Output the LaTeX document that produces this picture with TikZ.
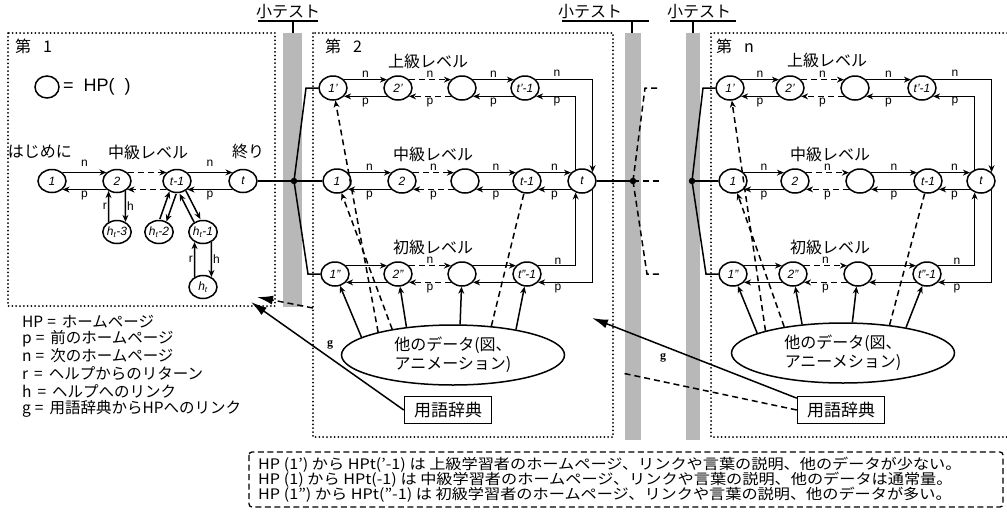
\documentclass[tikz,border=0pt]{standalone}
\usepackage{fontspec}
\setmainfont{Liberation Sans}
\newfontfamily\jp{Noto Sans CJK JP}
\newfontfamily\serifg{Liberation Serif}
\usetikzlibrary{arrows.meta,shapes.geometric}
\begin{document}
\begin{tikzpicture}[x=1pt,y=-1pt,
  hp/.style={ellipse,draw,line width=1.5pt,minimum width=28pt,minimum height=24pt,inner sep=0pt,font=\itshape\fontsize{12}{12}\selectfont},
  hps/.style={hp,minimum width=28pt,minimum height=23pt},
  ln/.style={line width=1.5pt},
  arr/.style={ln,-{Stealth[length=7pt,width=6pt]}},
  darr/.style={arr,dash pattern=on 6pt off 4pt},
  dln/.style={ln,dash pattern=on 6pt off 4pt},
  lab/.style={font=\fontsize{12}{12}\selectfont,inner sep=1pt},
  jl/.style={font=\jp\fontsize{16}{18}\selectfont,inner sep=0pt},
  leg/.style={font=\jp\fontsize{15.5}{17}\selectfont,inner sep=0pt,anchor=west},
  btxt/.style={font=\jp\fontsize{14.5}{16}\selectfont,inner sep=0pt,anchor=west},
  panel/.style={line width=2pt,line cap=round,dash pattern=on 0pt off 3.8pt},
  bar/.style={fill=black!28,draw=none},
  big/.style={ln,-{Latex[length=16pt,width=9pt]}},
  jdot/.style={circle,fill,inner sep=0pt,minimum size=6.5pt},
  data/.style={ellipse,draw,line width=1.5pt,minimum width=223pt,minimum height=60pt,inner sep=0pt,align=center,font=\jp\fontsize{16}{19}\selectfont},
  gbox/.style={rectangle,draw,line width=1.5pt,minimum width=87pt,minimum height=27pt,inner sep=0pt,font=\jp\fontsize{17}{18}\selectfont},
  glab/.style={font=\serifg\bfseries\fontsize{12}{12}\selectfont,inner sep=0pt},
]
\useasboundingbox (0,0) rectangle (1007,515);
\fill[white] (0,0) rectangle (1007,515);

% quiz bars
\fill[bar] (283,33) rectangle (302,307);
\fill[bar] (625,33) rectangle (641,440);
\fill[bar] (686,33) rectangle (700,440);
\node[jl] (q1) at (288,12) {小テスト};
\node[jl] (q2) at (590,12) {小テスト};
\node[jl] (q3) at (699,12) {小テスト};
\draw[ln] (258,21) -- (318,21); \draw[ln] (293,21) -- (293,33);
\draw[ln] (562,21) -- (649,21); \draw[ln] (632,21) -- (632,33);
\draw[ln] (670,21) -- (736,21); \draw[ln] (693,21) -- (693,33);

% panels
\draw[panel] (8,33) rectangle (275,306);
\draw[panel] (313,33) rectangle (613,437);
\draw[panel] (1007,33) -- (711,33) -- (711,437) -- (1007,437);

% ---------------- panel 1 ----------------
\node[jl,anchor=west] (p1) at (15,46) {第\hspace{12pt}1};
\node[hp,minimum width=24pt,minimum height=22pt] (lg) at (47,87) {};
\node[anchor=west,font=\fontsize{18}{18}\selectfont,inner sep=0pt] (lgt) at (63,87) {=\hspace{10pt}HP(\hspace{10pt})};
\node[jl] (s1) at (40,152) {はじめに};
\node[jl] (s2) at (148,152) {中級レベル};
\node[jl] (s3) at (248,151) {終り};

\node[hps] (a1) at (52,181) {1};
\node[hps] (a2) at (117,181) {2};
\node[hps] (a3) at (177,181) {t-1};
\node[hps] (a4) at (243,181) {t};
\node[hps] (h3) at (117,232) {h\textsubscript{t}-3};
\node[hps] (h2) at (159,232) {h\textsubscript{t}-2};
\node[hps] (h1) at (203,232) {h\textsubscript{t}-1};
\node[hps] (h0) at (203,287) {h\textsubscript{t}};

\draw[arr] (a1.39) -- node[lab,above=4pt]{n} (a2.141);
\draw[arr] (a2.-141) -- node[lab,below]{p} (a1.-39);
\draw[darr] (a2.39) -- (a3.141);
\draw[darr] (a3.-141) -- (a2.-39);
\draw[arr] (a3.39) -- node[lab,above=4pt]{n} (a4.141);
\draw[arr] (a4.-141) -- node[lab,below]{p} (a3.-39);
\draw[arr] (h3.130) -- node[lab,left]{r} (a2.-130);
\draw[arr] (a2.-50) -- node[lab,right]{h} (h3.50);
\draw[arr] (h0.130) -- node[lab,left]{r} (h1.-130);
\draw[arr] (h1.-50) -- node[lab,right]{h} (h0.50);
\draw[arr,transform canvas={shift={(3.3pt,-1.2pt)}}] (a3) -- (h2);
\draw[arr,transform canvas={shift={(-3.3pt,1.2pt)}}] (h2) -- (a3);
\draw[arr,transform canvas={shift={(-3.1pt,-1.6pt)}}] (h1) -- (a3);
\draw[arr,transform canvas={shift={(3.1pt,1.6pt)}}] (a3) -- (h1);

% legend
\node[leg] (l1) at (22,322) {HP\hspace{4pt}=\hspace{6pt}ホームページ};
\node[leg] (l2) at (22,339) {p\hspace{4pt}=\hspace{6pt}前のホームページ};
\node[leg] (l3) at (22,356) {n\hspace{4pt}=\hspace{6pt}次のホームページ};
\node[leg] (l4) at (22,374) {r\hspace{6pt}=\hspace{6pt}ヘルプからのリターン};
\node[leg] (l5) at (22,391) {h\hspace{6pt}=\hspace{6pt}ヘルプへのリンク};
\node[leg] (l6) at (22,409) {g\hspace{4pt}=\hspace{6pt}用語辞典からHPへのリンク};

% ---------------- panel 2 ----------------
\node[jl,anchor=west] (p2) at (325,46) {第\hspace{12pt}2};
\node[jl] (u2) at (428,61) {上級レベル};
\node[jl] (m2) at (433,154) {中級レベル};
\node[jl] (d2) at (433,247) {初級レベル};

\node[hp] (A1) at (333,88) {1'};
\node[hp] (A2) at (398,88) {2'};
\node[hp] (A3) at (462,88) {};
\node[hp] (A4) at (525,88) {t'-1};
\node[hp] (B1) at (337,181) {1};
\node[hp] (B2) at (402,181) {2};
\node[hp] (B3) at (465,181) {};
\node[hp] (B4) at (527,181) {t-1};
\node[hp] (B5) at (582,181) {t};
\node[hp] (C1) at (335,274) {1''};
\node[hp] (C2) at (398,274) {2''};
\node[hp] (C3) at (462,274) {};
\node[hp] (C4) at (527,274) {t''-1};

\draw[arr] (A1.37) -- node[lab,above]{n} (A2.143);
\draw[arr] (A2.-143) -- node[lab,below]{p} (A1.-37);
\draw[darr] (A2.37) -- node[lab,above]{n} (A3.143);
\draw[darr] (A3.-143) -- node[lab,below]{p} (A2.-37);
\draw[arr] (A3.37) -- node[lab,above]{n} (A4.143);
\draw[arr] (A4.-143) -- node[lab,below]{p} (A3.-37);
\draw[arr] (A4.37) -| (B5.40);
\draw[arr] (B5.119) |- (A4.-37);
\node[lab] (A5n) at (557,73) {n};
\node[lab] (A5p) at (557,102) {p};

\draw[arr] (B1.37) -- node[lab,above]{n} (B2.143);
\draw[arr] (B2.-143) -- node[lab,below]{p} (B1.-37);
\draw[darr] (B2.37) -- node[lab,above]{n} (B3.143);
\draw[darr] (B3.-143) -- node[lab,below]{p} (B2.-37);
\draw[arr] (B3.37) -- node[lab,above]{n} (B4.143);
\draw[arr] (B4.-143) -- node[lab,below]{p} (B3.-37);
\draw[arr] (B4.37) -- node[lab,above]{n} (B5.143);
\draw[arr] (B5.-143) -- node[lab,below]{p} (B4.-37);

\draw[arr] (C1.37) -- (C2.143);
\draw[arr] (C2.-143) -- (C1.-37);
\draw[darr] (C2.37) -- node[lab,above]{n} (C3.143);
\draw[darr] (C3.-143) -- node[lab,below]{p} (C2.-37);
\draw[arr] (C3.37) -- (C4.143);
\draw[arr] (C4.-143) -- (C3.-37);
\draw[arr] (C4.37) -| (B5.-119);
\draw[arr] (B5.-40) |- (C4.-37);
\node[lab] (C5n) at (558,261) {n};
\node[lab] (C5p) at (558,289) {p};

\node[data] (E2) at (453,355) {他のデータ(図、\\アニメーション)};
\draw[arr] (E2.169) -- (C1);
\draw[arr] (E2.149) -- (C2);
\draw[arr] (E2.77) -- (C3);
\draw[arr] (E2.22) -- (C4);
\draw[darr] (E2.163) -- (A1);
\draw[darr] (E2.157) -- (B1);
\draw[dln] (E2.37) -- (B4);

% ---------------- panel n ----------------
\node[jl,anchor=west] (pn) at (716,46) {第\hspace{12pt}n};
\node[jl] (un) at (827,60) {上級レベル};
\node[jl] (mn) at (830,154) {中級レベル};
\node[jl] (dn) at (830,247) {初級レベル};

\node[hp] (U1) at (730,88) {1'};
\node[hp] (U2) at (790,88) {2'};
\node[hp] (U3) at (855,88) {};
\node[hp] (U4) at (922,88) {t'-1};
\node[hp] (M1) at (733,181) {1};
\node[hp] (M2) at (795,181) {2};
\node[hp] (M3) at (860,181) {};
\node[hp] (M4) at (928,181) {t-1};
\node[hp] (M5) at (981,181) {t};
\node[hp] (L1) at (733,274) {1''};
\node[hp] (L2) at (793,274) {2''};
\node[hp] (L3) at (858,274) {};
\node[hp] (L4) at (927,274) {t''-1};

\draw[arr] (U1.37) -- node[lab,above]{n} (U2.143);
\draw[arr] (U2.-143) -- node[lab,below]{p} (U1.-37);
\draw[darr] (U2.37) -- node[lab,above]{n} (U3.143);
\draw[darr] (U3.-143) -- node[lab,below]{p} (U2.-37);
\draw[arr] (U3.37) -- node[lab,above]{n} (U4.143);
\draw[arr] (U4.-143) -- node[lab,below]{p} (U3.-37);
\draw[arr] (U4.37) -| (M5.40);
\draw[arr] (M5.119) |- (U4.-37);
\node[lab] (U5n) at (955,73) {n};
\node[lab] (U5p) at (955,102) {p};

\draw[arr] (M1.37) -- node[lab,above]{n} (M2.143);
\draw[arr] (M2.-143) -- node[lab,below]{p} (M1.-37);
\draw[darr] (M2.37) -- node[lab,above]{n} (M3.143);
\draw[darr] (M3.-143) -- node[lab,below]{p} (M2.-37);
\draw[arr] (M3.37) -- node[lab,above]{n} (M4.143);
\draw[arr] (M4.-143) -- node[lab,below]{p} (M3.-37);
\draw[arr] (M4.37) -- node[lab,above]{n} (M5.143);
\draw[arr] (M5.-143) -- node[lab,below]{p} (M4.-37);

\draw[arr] (L1.37) -- (L2.143);
\draw[arr] (L2.-143) -- (L1.-37);
\draw[darr] (L2.37) -- node[lab,above]{n} (L3.143);
\draw[darr] (L3.-143) -- node[lab,below]{p} (L2.-37);
\draw[arr] (L3.37) -- (L4.143);
\draw[arr] (L4.-143) -- (L3.-37);
\draw[arr] (L4.37) -| (M5.-119);
\draw[arr] (M5.-40) |- (L4.-37);
\node[lab] (L5n) at (957,261) {n};
\node[lab] (L5p) at (957,289) {p};

\node[data] (E3) at (843,353) {他のデータ(図、\\アニーメション)};
\draw[arr] (E3.167) -- (L1);
\draw[arr] (E3.145) -- (L2);
\draw[arr] (E3.73) -- (L3);
\draw[arr] (E3.22) -- (L4);
\draw[darr] (E3.164) -- (U1);
\draw[darr] (E3.156) -- (M1);
\draw[dln] (E3.31) -- (M4);

% ---------------- junctions ----------------
\node[jdot] (J1) at (294,181) {};
\node[jdot] (J2) at (633,181) {};
\node[jdot] (J3) at (692,181) {};
\coordinate (k1u) at (306,88);
\coordinate (k1d) at (308,274);
\coordinate (k2u) at (645,88);
\coordinate (k2ue) at (659,88);
\coordinate (k2d) at (647,274);
\coordinate (k2de) at (661,274);
\coordinate (k2e) at (661,181);
\coordinate (k3u) at (703,88);
\coordinate (k3d) at (706,274);
\draw[ln] (a4) -- (J1.center) -- (B1);
\draw[ln] (J1.center) -- (k1u) -- (A1);
\draw[ln] (J1.center) -- (k1d) -- (C1);
\draw[ln] (B5) -- (J2.center);
\draw[dln] (J2.center) -- (k2e);
\draw[dln] (J2.center) -- (k2u) -- (k2ue);
\draw[dln] (J2.center) -- (k2d) -- (k2de);
\draw[ln] (J3.center) -- (M1);
\draw[ln] (J3.center) -- (k3u) -- (U1);
\draw[ln] (J3.center) -- (k3d) -- (L1);

% ---------------- glossary ----------------
\node[gbox] (G2) at (448,410) {用語辞典};
\node[gbox] (G3) at (841,410) {用語辞典};
\coordinate (t1) at (251,302);
\coordinate (d1s) at (313,308);
\coordinate (d1t) at (257,297);
\coordinate (t2) at (592,318);
\coordinate (d2e) at (622,373);
\draw[big] (G2.west) -- (t1);
\draw[big,dash pattern=on 6pt off 4pt] (d1s) -- (d1t);
\draw[big] (G3.165) -- (t2);
\draw[dln] (G3.west) -- (d2e);
\node[glab] (g1) at (330,345) {g};
\node[glab] (g2) at (663,358) {g};

% ---------------- note box ----------------
\draw[line width=1.3pt,dash pattern=on 6pt off 3.5pt,rounded corners=3pt] (249,452) rectangle (1003,507);
\node[btxt] (b1) at (258,465) {\scalebox{1.115}[1]{HP (1’) から HPt(’-1) は 上級学習者のホームページ、リンクや言葉の説明、他のデータが少ない。}};
\node[btxt] (b2) at (258,480) {\scalebox{1.115}[1]{HP (1) から HPt(-1) は 中級学習者のホームページ、リンクや言葉の説明、他のデータは通常量。}};
\node[btxt] (b3) at (258,495) {\scalebox{1.115}[1]{HP (1”) から HPt(”-1) は 初級学習者のホームページ、リンクや言葉の説明、他のデータが多い。}};
\end{tikzpicture}
\end{document}
